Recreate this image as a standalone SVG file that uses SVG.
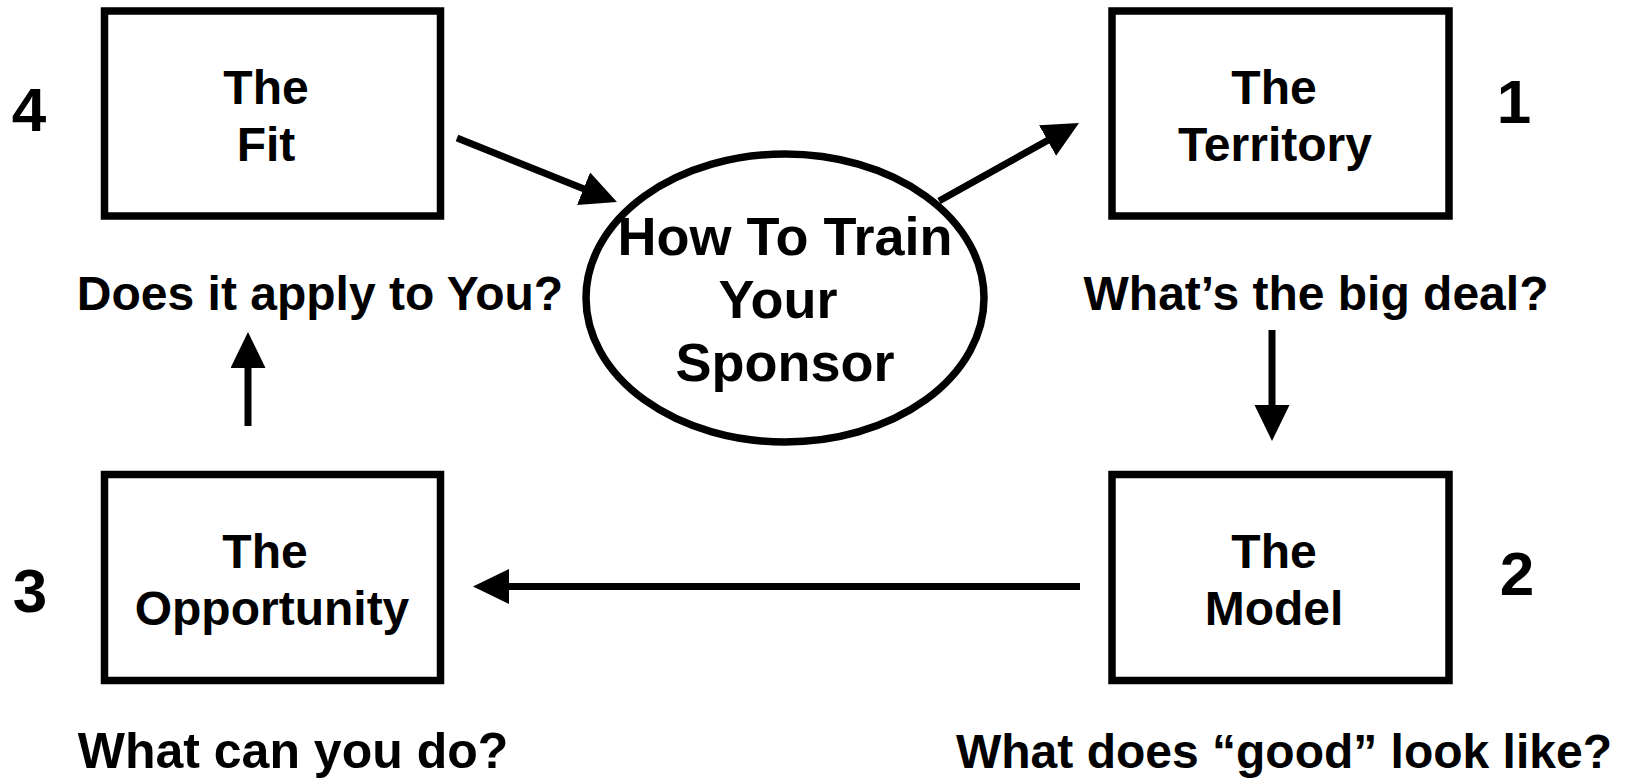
<svg xmlns="http://www.w3.org/2000/svg" width="1631" height="781" viewBox="0 0 1631 781">
  <style>
    .box { fill: #ffffff; stroke: #000000; stroke-width: 7.5; }
    .label { font-family: "Liberation Sans", Arial, sans-serif; font-weight: bold; font-size: 48px; fill: #000000; text-anchor: middle; }
    .center-label { font-size: 54px; }
    .num { font-size: 62px; }
    .link { stroke: #000000; stroke-width: 7; fill: none; marker-end: url(#head); }
  </style>
  <defs>
    <marker id="head" markerUnits="userSpaceOnUse" markerWidth="40" markerHeight="36" refX="2" refY="17.5" orient="auto">
      <path d="M0,0 L36,17.5 L0,35 Z" fill="#000000"/>
    </marker>
  </defs>

  <rect width="1631" height="781" fill="#ffffff"/>

  <!-- Step 4 -->
  <g id="node-fit">
    <rect class="box" x="104.5" y="11" width="336" height="205"/>
    <text class="label" x="266" y="104">The</text>
    <text class="label" x="266" y="161">Fit</text>
    <text class="label num" x="29" y="131">4</text>
    <text class="label" x="320" y="310">Does it apply to You?</text>
  </g>

  <!-- Centre -->
  <g id="node-center">
    <ellipse class="box" cx="785" cy="298" rx="199" ry="144"/>
    <text class="label center-label" x="785" y="255">How To Train</text>
    <text class="label center-label" x="778" y="318">Your</text>
    <text class="label center-label" x="785" y="381">Sponsor</text>
  </g>

  <!-- Step 1 -->
  <g id="node-territory">
    <rect class="box" x="1112" y="11" width="337" height="205"/>
    <text class="label" x="1274" y="104">The</text>
    <text class="label" x="1275" y="161">Territory</text>
    <text class="label num" x="1514" y="123">1</text>
    <text class="label" x="1316" y="310">What’s the big deal?</text>
  </g>

  <!-- Step 2 -->
  <g id="node-model">
    <rect class="box" x="1112" y="474.5" width="337" height="206"/>
    <text class="label" x="1274" y="568">The</text>
    <text class="label" x="1274" y="625">Model</text>
    <text class="label num" x="1517" y="595">2</text>
    <text class="label" x="1284" y="768">What does “good” look like?</text>
  </g>

  <!-- Step 3 -->
  <g id="node-opportunity">
    <rect class="box" x="104.5" y="474.5" width="336" height="206"/>
    <text class="label" x="265" y="568">The</text>
    <text class="label" x="272" y="625">Opportunity</text>
    <text class="label num" x="30" y="612">3</text>
    <text class="label" x="293" y="768" style="font-size:50px">What can you do?</text>
  </g>

  <!-- Connectors -->
  <g id="connectors">
    <line class="link" x1="457" y1="138" x2="585.4" y2="189.4"/>
    <line class="link" x1="939" y1="201" x2="1049.3" y2="139.5"/>
    <line class="link" x1="1272" y1="330" x2="1272" y2="407"/>
    <line class="link" x1="1080" y1="586.5" x2="507" y2="586.5"/>
    <line class="link" x1="248" y1="426" x2="248" y2="366"/>
  </g>
</svg>
